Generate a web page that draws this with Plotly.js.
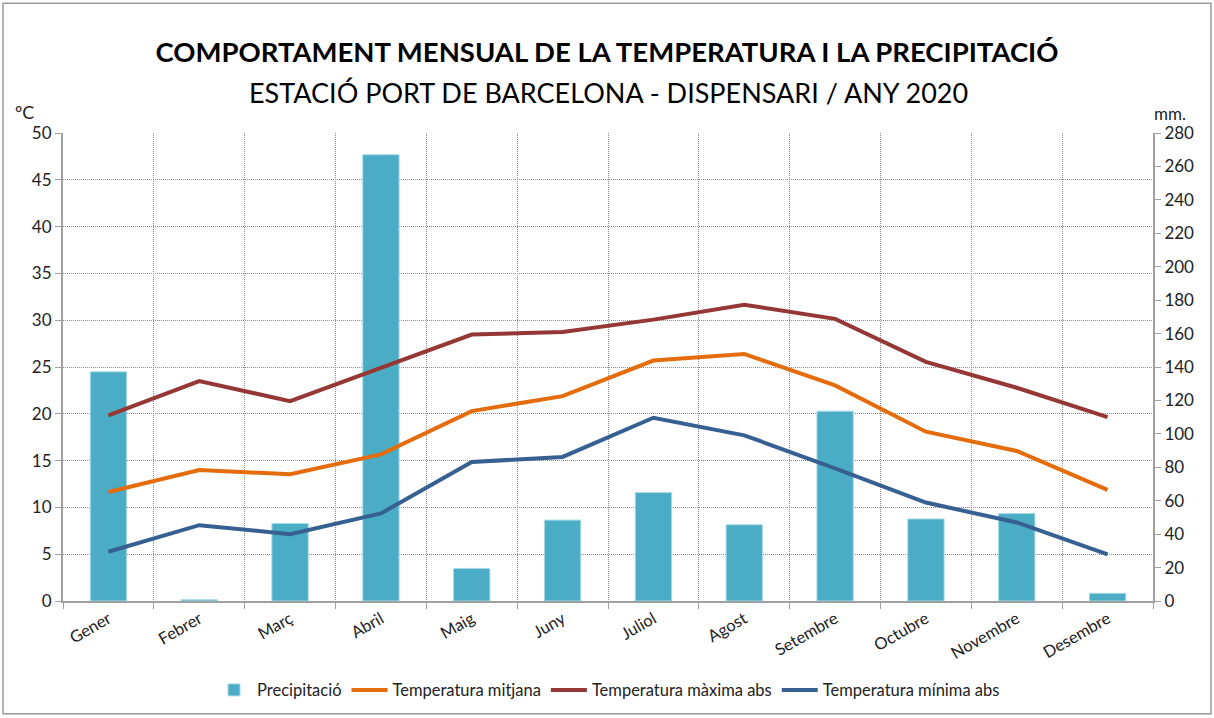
<!DOCTYPE html>
<html>
<head>
<meta charset="utf-8">
<script src="https://cdn.plot.ly/plotly-3.0.1.min.js"></script>
<style>body{margin:0;background:#fff;}</style>
</head>
<body>
<div id="plotDiv" style="width:1214px;height:718px;"></div>
<script>
var mesos = ['Gener','Febrer','Març','Abril','Maig','Juny','Juliol','Agost','Setembre','Octubre','Novembre','Desembre'];
var precipitacio = [137.1, 0.8, 46.4, 267, 19.5, 48.4, 64.9, 45.6, 113.6, 49.1, 52.3, 4.6];
var tMitjana = [11.65, 14.0, 13.54, 15.67, 20.29, 21.89, 25.69, 26.4, 23.03, 18.09, 16.03, 11.87];
var tMaxima = [19.83, 23.5, 21.35, 24.9, 28.46, 28.75, 30.06, 31.66, 30.14, 25.55, 22.78, 19.65];
var tMinima = [5.26, 8.1, 7.14, 9.35, 14.85, 15.39, 19.58, 17.7, 14.18, 10.52, 8.39, 4.98];

var font = 'Lato, "Open Sans", sans-serif';

// bars on the base axis (right, mm), lines on the overlay (left, ºC) so they sit on top
var barres = {
  type: 'bar', name: 'Precipitació',
  x: mesos, y: precipitacio, yaxis: 'y',
  width: 0.4,
  marker: {color: '#4BACC6', line: {color: '#A9DAE8', width: 1}}
};
var mitjana = {
  type: 'scatter', mode: 'lines', name: 'Temperatura mitjana',
  x: mesos, y: tMitjana, yaxis: 'y2',
  line: {color: '#E46C0A', width: 4}
};
var maxima = {
  type: 'scatter', mode: 'lines', name: 'Temperatura màxima abs',
  x: mesos, y: tMaxima, yaxis: 'y2',
  line: {color: '#953735', width: 4}
};
var minima = {
  type: 'scatter', mode: 'lines', name: 'Temperatura mínima abs',
  x: mesos, y: tMinima, yaxis: 'y2',
  line: {color: '#376092', width: 4}
};

var grid = {showgrid: true, gridcolor: '#8c8c8c', griddash: '1px,1px', gridwidth: 1};

var layout = {
  width: 1214, height: 718,
  margin: {l: 63, r: 61, t: 133, b: 116},
  paper_bgcolor: '#fff', plot_bgcolor: '#fff',
  font: {family: font, color: '#222', size: 16},
  showlegend: true,
  title: {
    text: '<b>COMPORTAMENT MENSUAL DE LA TEMPERATURA I LA PRECIPITACIÓ</b>',
    font: {family: font, size: 27.5, color: '#000'},
    x: 0.5, xanchor: 'center', y: 1 - 52 / 718, yanchor: 'middle'
  },
  xaxis: Object.assign({
    type: 'category', tickson: 'boundaries',
    showline: true, linecolor: '#a0a0a0', linewidth: 2,
    ticks: 'outside', ticklen: 6, tickcolor: '#a0a0a0',
    tickangle: -30, tickfont: {size: 16.5, color: '#222'}
  }, grid),
  yaxis: {
    side: 'right', range: [0, 280], dtick: 20,
    showgrid: false, zeroline: false,
    showline: true, linecolor: '#a0a0a0', linewidth: 2,
    ticks: 'outside', ticklen: 6, tickcolor: '#a0a0a0',
    tickfont: {size: 17, color: '#222'}
  },
  yaxis2: Object.assign({
    overlaying: 'y', side: 'left', range: [0, 50], dtick: 5,
    zeroline: false,
    showline: true, linecolor: '#a0a0a0', linewidth: 2,
    ticks: 'outside', ticklen: 6, tickcolor: '#a0a0a0',
    tickfont: {size: 17, color: '#222'}
  }, grid),
  legend: {
    orientation: 'h', x: 0.5, xanchor: 'center', y: -0.188, yanchor: 'middle',
    font: {size: 16.5, color: '#222'}, traceorder: 'normal', itemwidth: 36
  },
  annotations: [
    {text: 'ESTACIÓ PORT DE BARCELONA - DISPENSARI / ANY 2020', xref: 'paper', yref: 'paper',
     x: 0.5, y: (602 - 92) / 469, xanchor: 'center', yanchor: 'middle', showarrow: false,
     font: {family: font, size: 27, color: '#000'}},
    {text: 'ºC', xref: 'paper', yref: 'paper', x: (24 - 63) / 1090, y: (602 - 112) / 469,
     xanchor: 'center', yanchor: 'middle', showarrow: false, font: {size: 18, color: '#222'}},
    {text: 'mm.', xref: 'paper', yref: 'paper', x: (1170 - 63) / 1090, y: (602 - 113) / 469,
     xanchor: 'center', yanchor: 'middle', showarrow: false, font: {size: 17, color: '#222'}}
  ],
  shapes: [
    {type: 'rect', xref: 'paper', yref: 'paper', layer: 'below',
     x0: (3 - 63) / 1090, x1: (1211 - 63) / 1090, y0: (602 - 715) / 469, y1: (602 - 3) / 469,
     line: {color: '#9a9a9a', width: 1.5}, fillcolor: 'rgba(0,0,0,0)'}
  ]
};

Plotly.newPlot('plotDiv', [barres, mitjana, maxima, minima], layout, {displayModeBar: false});
</script>
</body>
</html>
